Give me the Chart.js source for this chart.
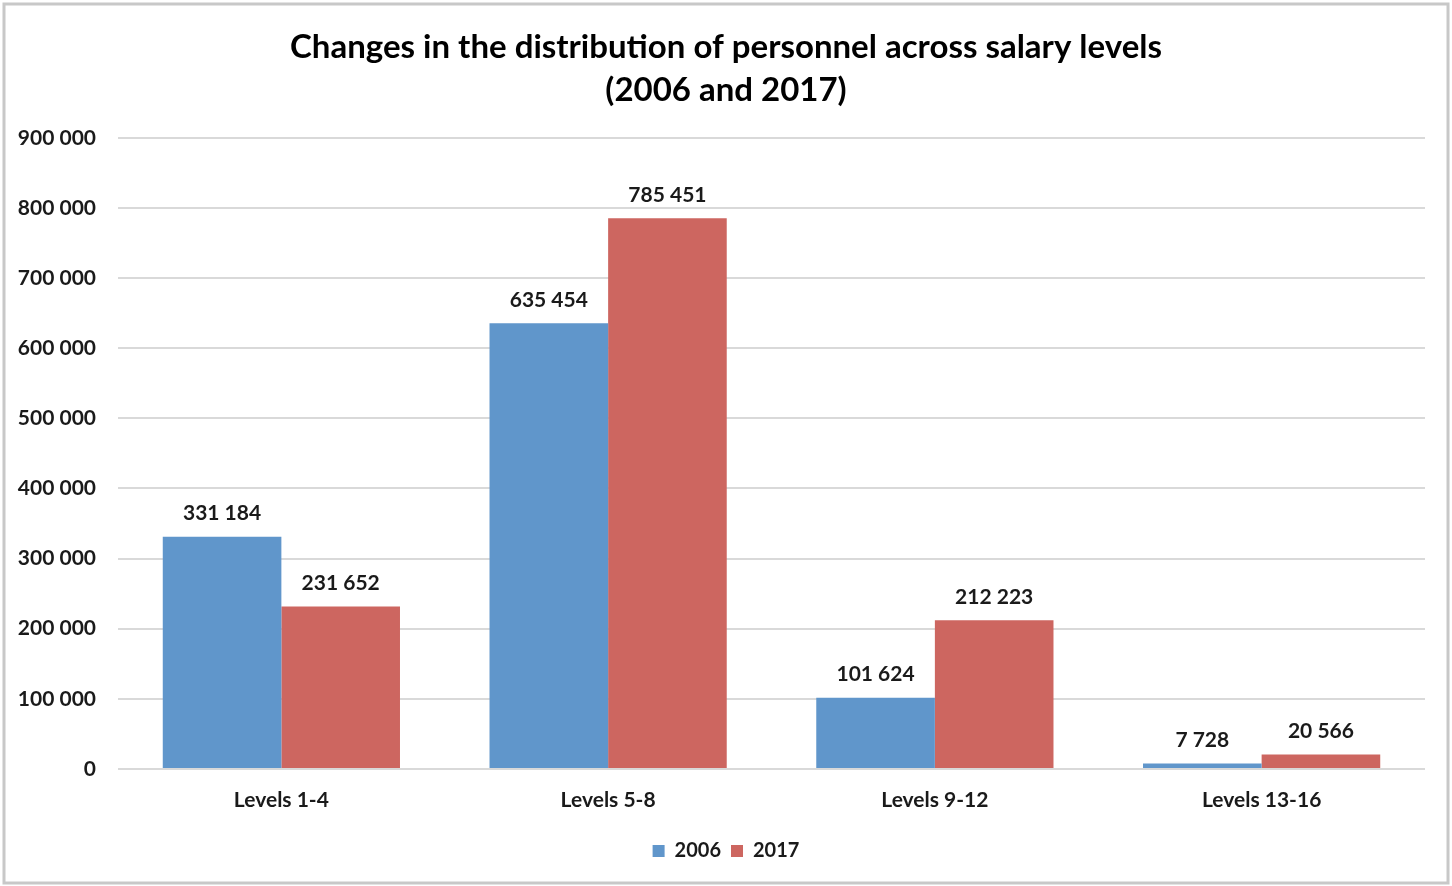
<!DOCTYPE html>
<html lang="en">
<head>
  <meta charset="UTF-8">
  <title>Salary levels</title>
  <script src="https://cdn.jsdelivr.net/npm/chart.js"></script>
  <style>
    body { margin: 0; background: #fff; }
    #wrap { position: relative; width: 1452px; height: 886px; }
  </style>
</head>
<body>
  <div id="wrap"><canvas id="chart" width="1452" height="886"></canvas></div>

  <script>
    const categories = ['Levels 1-4', 'Levels 5-8', 'Levels 9-12', 'Levels 13-16'];
    const values2006 = [331184, 635454, 101624, 7728];
    const values2017 = [231652, 785451, 212223, 20566];
    const seriesNames = ['2006', '2017'];

    const fmt = v => String(v).replace(/\B(?=(\d{3})+(?!\d))/g, ' ');
    const FONT = 'Lato, "Open Sans", sans-serif';

    // frame around the whole picture
    const frame = {
      id: 'frame',
      beforeDraw(chart) {
        const c = chart.ctx;
        c.save();
        c.fillStyle = '#fff';
        c.fillRect(0, 0, chart.width, chart.height);
        c.strokeStyle = '#c8c8c8';
        c.lineWidth = 3;
        c.strokeRect(4, 4, chart.width - 8, chart.height - 7);
        c.restore();
      }
    };

    // value labels above bars
    const barLabels = {
      id: 'barLabels',
      afterDatasetsDraw(chart) {
        const c = chart.ctx;
        c.save();
        c.font = 'bold 21px ' + FONT;
        c.fillStyle = '#1a1a1a';
        c.textAlign = 'center';
        c.textBaseline = 'middle';
        chart.data.datasets.forEach((ds, i) => {
          chart.getDatasetMeta(i).data.forEach((bar, j) => {
            c.fillText(fmt(ds.data[j]), bar.x, bar.y - 23);
          });
        });
        c.restore();
      }
    };

    new Chart(document.getElementById('chart'), {
      type: 'bar',
      data: {
        labels: categories,
        datasets: [
          { label: seriesNames[0], data: values2006, backgroundColor: '#6096cb' },
          { label: seriesNames[1], data: values2017, backgroundColor: '#cd6660' }
        ]
      },
      options: {
        responsive: false,
        animation: false,
        layout: { padding: { left: 0, right: 0, top: 0, bottom: 15 } },
        datasets: { bar: { categoryPercentage: 0.726, barPercentage: 1 } },
        plugins: {
          title: {
            display: true,
            text: ['Changes in the distribution of personnel across salary levels', '(2006 and 2017)'],
            color: '#000',
            font: { family: FONT, size: 33, weight: 'bold', lineHeight: 1.3 },
            padding: { top: 26, bottom: 26 }
          },
          legend: {
            position: 'bottom',
            labels: {
              color: '#1a1a1a',
              font: { family: FONT, size: 20, weight: 'bold' },
              boxWidth: 12,
              boxHeight: 12,
              padding: 10
            }
          },
          tooltip: { enabled: false }
        },
        scales: {
          x: {
            grid: { display: false },
            border: { display: false },
            ticks: { color: '#1a1a1a', font: { family: FONT, size: 21, weight: 'bold' }, padding: 11 },
            afterFit(scale) { scale.height = 62; }
          },
          y: {
            min: 0,
            max: 900000,
            grid: { color: '#d9d9d9', lineWidth: 2, drawTicks: false },
            border: { display: false },
            ticks: {
              stepSize: 100000,
              color: '#1a1a1a',
              font: { family: FONT, size: 21, weight: 'bold' },
              padding: 22,
              callback: v => fmt(v)
            },
            afterFit(scale) { scale.width = 118; }
          },
          // empty right axis, only keeps the right margin so the title stays centred
          yRight: {
            position: 'right',
            display: true,
            grid: { display: false },
            border: { display: false },
            ticks: { display: false },
            afterFit(scale) { scale.width = 27; }
          }
        }
      },
      plugins: [frame, barLabels]
    });
  </script>
</body>
</html>
